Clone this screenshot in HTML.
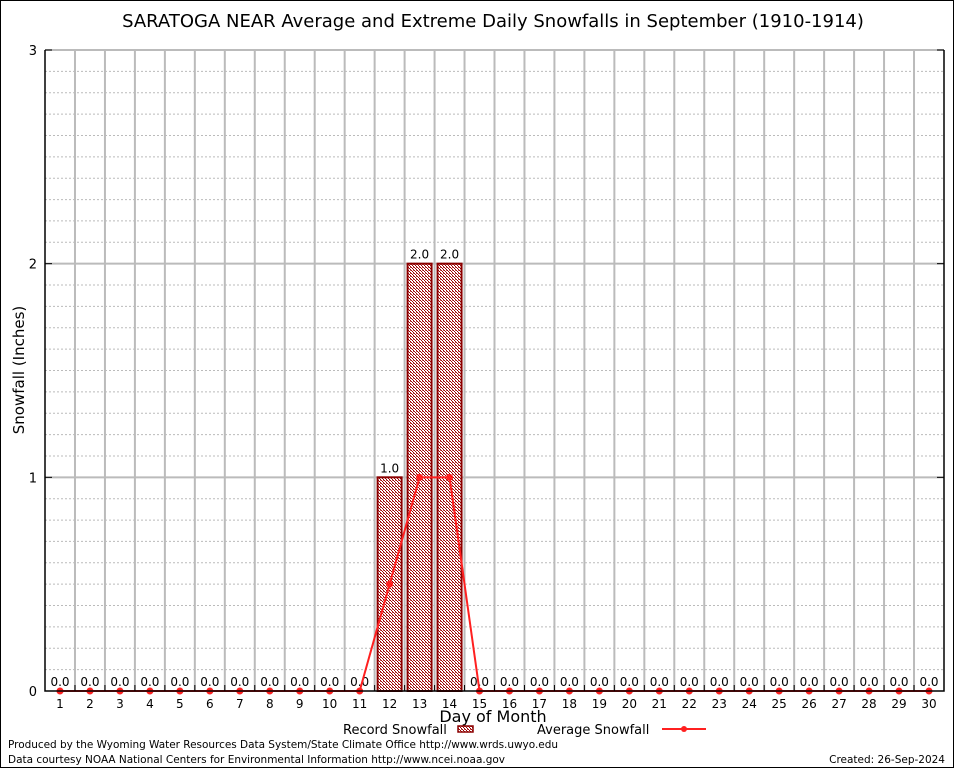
<!DOCTYPE html>
<html><head><meta charset="utf-8"><style>
body{margin:0;background:#fff}
svg text{font-family:"DejaVu Sans","Liberation Sans",sans-serif}
</style></head><body>
<svg id="chart" width="954" height="768" viewBox="0 0 954 768" xmlns="http://www.w3.org/2000/svg">
<defs>
<pattern id="chk" width="3" height="3" patternUnits="userSpaceOnUse">
<rect width="3" height="3" fill="#fff"/><rect width="1" height="1" fill="#a00000"/><rect x="1" y="1" width="1" height="1" fill="#a00000"/><rect x="2" y="2" width="1" height="1" fill="#a00000"/><rect x="2" y="0" width="1" height="1" fill="#c06060"/>
</pattern>
</defs>
<rect x="0.5" y="0.5" width="953" height="767" fill="#fff" stroke="#000"/>
<text x="493" y="27" font-size="18" text-anchor="middle">SARATOGA NEAR Average and Extreme Daily Snowfalls in September (1910-1914)</text>
<g id="grid"></g>
<g id="bars"></g>
<g id="line"></g>
<g id="axes"></g>
<text transform="translate(24,370) rotate(-90)" font-size="15" text-anchor="middle">Snowfall (Inches)</text>
<text x="493" y="722" font-size="16" text-anchor="middle">Day of Month</text>
<g>
<text x="343" y="734" font-size="13">Record Snowfall</text>
<rect x="458" y="726" width="15" height="6" fill="url(#chk)" stroke="#8b0000" stroke-width="1.5"/>
<text x="537" y="734" font-size="13">Average Snowfall</text>
<line x1="662" y1="729" x2="706" y2="729" stroke="#ff2020" stroke-width="2"/>
<circle cx="684" cy="729" r="3" fill="#ff2020"/>
</g>
<text x="8" y="748" font-size="10.5" textLength="550">Produced by the Wyoming Water Resources Data System/State Climate Office http://www.wrds.uwyo.edu</text>
<text x="8" y="763" font-size="10.5" textLength="497">Data courtesy NOAA National Centers for Environmental Information http://www.ncei.noaa.gov</text>
<text x="945" y="763" font-size="10.5" text-anchor="end">Created:  26-Sep-2024</text>
</svg>
<script>
const days = Array.from({length:30},(_,i)=>i+1);
const recordSnow = [0,0,0,0,0,0,0,0,0,0,0,1.0,2.0,2.0,0,0,0,0,0,0,0,0,0,0,0,0,0,0,0,0];
const avgSnow = [0,0,0,0,0,0,0,0,0,0,0,0.5,1.0,1.0,0,0,0,0,0,0,0,0,0,0,0,0,0,0,0,0];
const yTicks = [0,1,2,3];
const NS='http://www.w3.org/2000/svg';
const L=45,R=944,T=50,B=691,YMAX=3;
const x=d=>60+(d-1)*(929-60)/29;
const y=v=>B-(v/YMAX)*(B-T);
function mk(tag,attrs,parent,txt){const e=document.createElementNS(NS,tag);for(const k in attrs)e.setAttribute(k,attrs[k]);if(txt!=null)e.textContent=txt;parent.appendChild(e);return e;}
const grid=document.getElementById('grid'),bars=document.getElementById('bars'),line=document.getElementById('line'),axes=document.getElementById('axes');
for(let i=1;i<YMAX*10;i++){if(i%10===0)continue;const e=mk('line',{x1:L,x2:R,y1:y(i/10),y2:y(i/10),stroke:'#bbb','stroke-dasharray':'2,2'},grid);

}
yTicks.forEach(v=>{if(v>0){const e=mk('line',{x1:L,x2:R,y1:y(v),y2:y(v),stroke:'#bbb','stroke-width':2},grid);

}
const t=mk('text',{x:37,y:y(v)+5,'font-size':13,'text-anchor':'end','font-family':'Liberation Serif'},axes,String(v));


const tk=mk('line',{x1:L,x2:L+7,y1:y(v),y2:y(v),stroke:'#000'},axes);


const tk2=mk('line',{x1:R-7,x2:R,y1:y(v),y2:y(v),stroke:'#000'},axes);

});
for(let i=1;i<days.length;i++){const gx=(x(days[i-1])+x(days[i]))/2;
const e=mk('line',{x1:gx,x2:gx,y1:T,y2:B,stroke:'#bbb','stroke-width':2},grid);


const tk=mk('line',{x1:gx,x2:gx,y1:B-6,y2:B,stroke:'#000'},axes);

}
days.forEach((d,i)=>{const v=recordSnow[i];
if(v>0){const r=mk('rect',{x:x(d)-12,y:y(v),width:24,height:B-y(v),fill:'url(#chk)',stroke:'#8b0000','stroke-width':2},bars);

}
const lb=mk('text',{x:x(d),y:y(v)-5,'font-size':12,'text-anchor':'middle'},bars,v.toFixed(1));


const xl=mk('text',{x:x(d),y:B+17,'font-size':12,'text-anchor':'middle','font-family':'Liberation Serif'},axes,String(d));

});
const pl=mk('polyline',{points:days.map((d,i)=>x(d)+','+y(avgSnow[i])).join(' '),fill:'none',stroke:'#ff2020','stroke-width':2},line);


days.forEach((d,i)=>{const c=mk('circle',{cx:x(d),cy:y(avgSnow[i]),r:3.5,fill:'#ff2020'},line);

});
const ax=mk('path',{d:`M${L},${T} V${B} H${R} V${T}`,fill:'none',stroke:'#000','stroke-width':1.5},axes);


</script>
</body></html>
